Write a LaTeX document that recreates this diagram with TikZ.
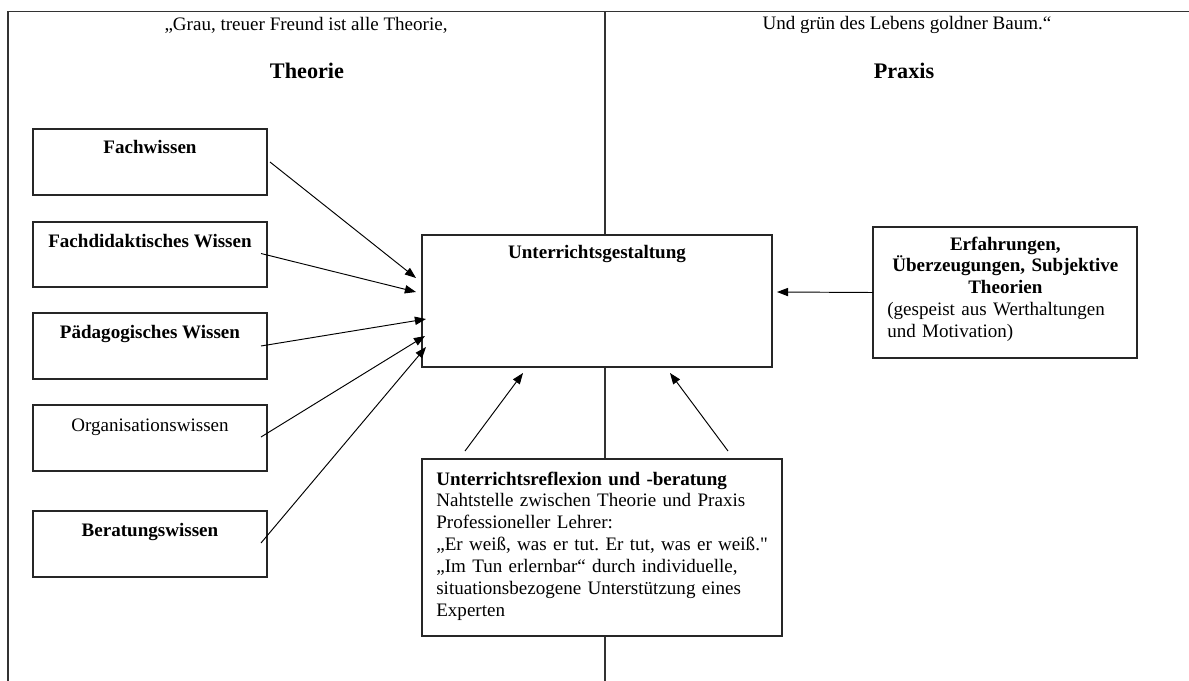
\documentclass[tikz,border=0pt]{standalone}
\usepackage{fontspec}
\setmainfont{Liberation Serif}
\usetikzlibrary{arrows.meta,calc}
\frenchspacing
\begin{document}
\begin{tikzpicture}[x=0.63pt,y=-0.63pt,
  wh/.style 2 args={minimum width={#1*0.63pt}, minimum height={#2*0.63pt}},
  box/.style={draw=black!85, line width=0.8pt, fill=white, inner sep=0pt, outer sep=0pt, anchor=north west},
  lbl/.style={font=\fontsize{12}{13.8}\selectfont\bfseries, anchor=base, inner sep=0pt},
  plain/.style={font=\fontsize{12}{13.8}\selectfont, anchor=base, inner sep=0pt},
  title/.style={font=\fontsize{14}{16}\selectfont\bfseries, anchor=base, inner sep=0pt},
  conn/.style={line width=0.6pt, -{Triangle[length=7pt,width=5.2pt]}},
  frameline/.style={draw=black!80, line width=0.8pt}]
\useasboundingbox (0,0) rectangle (1189,681);

% frame and separator
\coordinate (fbl) at (8,681);
\coordinate (ftl) at (8,11.5);
\coordinate (ftr) at (1189,11.5);
\coordinate (mtop) at (605,11.5);
\coordinate (mbot) at (605,681);
\draw[frameline] (fbl) -- (ftl) -- (ftr);
\draw[frameline] (mtop) -- (mbot);

% headings
\node[plain] (q1) at (306,30) {„Grau, treuer Freund ist alle Theorie,};
\node[plain] (q2) at (907,29) {Und grün des Lebens goldner Baum.“};
\node[title] (th) at (307,78) {Theorie};
\node[title] (pr) at (904,78) {Praxis};

% left boxes
\node[box, wh={234}{66}] (fw) at (33,129) {};
\node[lbl] (fwt) at (150,153) {Fachwissen};
\node[box, wh={234}{65}] (fd) at (33,222) {};
\node[lbl] (fdt) at (150,247) {Fachdidaktisches Wissen};
\node[box, wh={234}{66}] (pw) at (33,313) {};
\node[lbl] (pwt) at (150,338) {Pädagogisches Wissen};
\node[box, wh={234}{66}] (ow) at (33,405) {};
\node[plain] (owt) at (150,431) {Organisationswissen};
\node[box, wh={234}{66}] (bw) at (33,511) {};
\node[lbl] (bwt) at (150,536) {Beratungswissen};

% central box
\node[box, wh={350}{132}] (ug) at (422,235) {};
\node[lbl] (ugt) at (597,258) {Unterrichtsgestaltung};

% right box
\node[box, wh={264}{131}] (ef) at (873,227) {};
\node[inner sep=0pt, anchor=base west, text width={236*0.63pt},
      font=\fontsize{12}{13.8}\selectfont] (eft) at (887,250)
  {{\centering\bfseries Erfahrungen,\\ Überzeugungen, Subjektive\\ Theorien\par}
   \raggedright (gespeist aus Werthaltungen\\ und Motivation)};

% bottom box
\node[box, wh={360}{177}] (ur) at (422,459) {};
\node[inner sep=0pt, anchor=base west, text width={340*0.63pt},
      font=\fontsize{12}{13.8}\selectfont] (urt) at (436,485)
  {\raggedright\textbf{Unterrichtsreflexion und -beratung}\\
   Nahtstelle zwischen Theorie und Praxis\\
   Professioneller Lehrer:\\
   „Er weiß, was er tut. Er tut, was er weiß.\textquotedbl\\
   „Im Tun erlernbar“ durch individuelle,\\
   situationsbezogene Unterstützung eines\\
   Experten};

% connectors
\draw[conn] ($(fw.east)+(3,0)$) -- ($(ug.north west)+(-6,43)$);
\draw[conn] ($(fd.east)+(-6,-1)$) -- ($(ug.north west)+(-6,57)$);
\draw[conn] ($(pw.east)+(-6,0)$) -- ($(ug.north west)+(4,84)$);
\draw[conn] ($(ow.east)+(-6,-1)$) -- ($(ug.north west)+(3,101)$);
\draw[conn] ($(bw.east)+(-6,-1)$) -- ($(ug.north west)+(4,112)$);
\draw[conn] (ef.west) -- ($(ug.east)+(5,-9)$);
\draw[conn] ($(ur.north west)+(43,-8)$) -- ($(ug.south west)+(101,6)$);
\draw[conn] ($(ur.north west)+(306,-8)$) -- ($(ug.south west)+(248,6)$);
\end{tikzpicture}
\end{document}
